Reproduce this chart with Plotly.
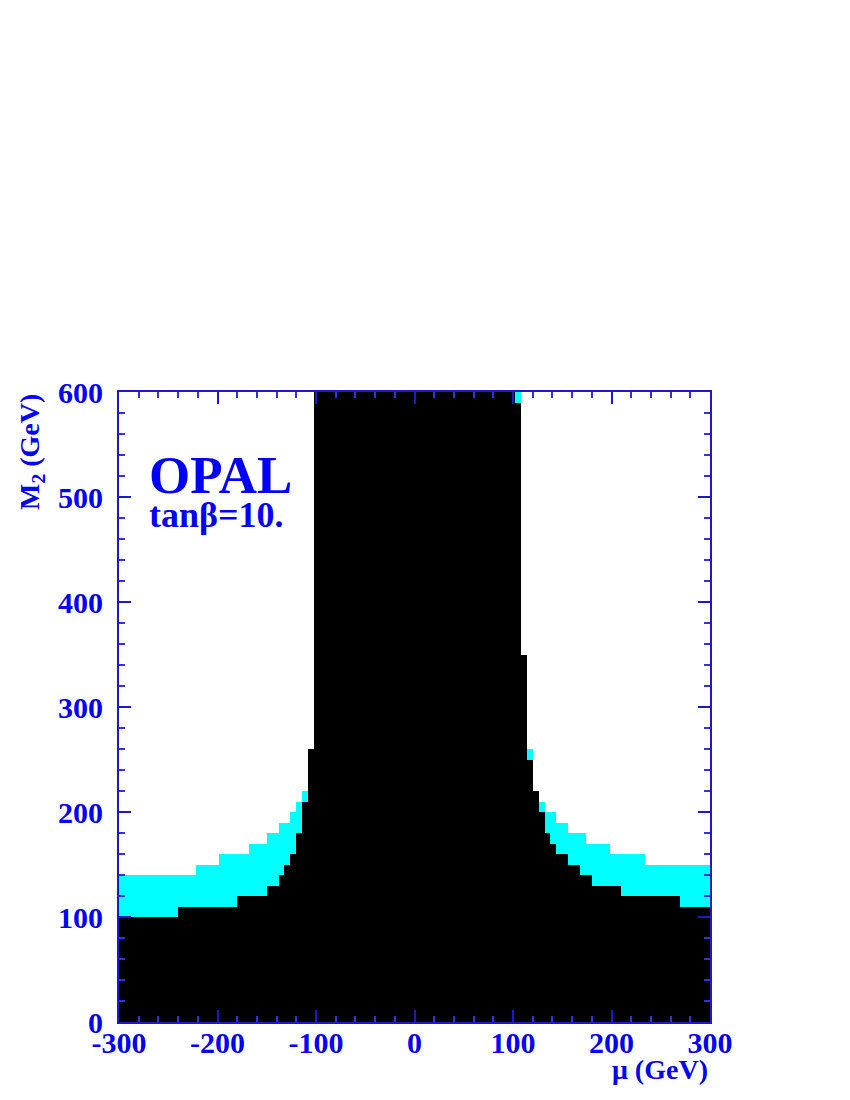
import plotly.graph_objects as go

# Step boundaries of the excluded regions (mu in GeV)
mu_edges = [-300, -240, -222, -198, -180, -168, -150, -138, -132, -126, -120, -114, -108, -102,
            102, 108, 114, 120, 126, 132, 138, 144, 156, 168, 174, 180, 198, 210, 234, 270, 300]
# Upper M2 edge (GeV) of black region in each mu segment
black_top = [100, 110, 110, 110, 120, 120, 130, 140, 150, 160, 180, 210, 260,
             600,
             590, 350, 250, 220, 200, 180, 170, 160, 150, 140, 140, 130, 130, 120, 120, 110]
# Upper M2 edge (GeV) of cyan region in each mu segment
cyan_top = [140, 140, 150, 160, 160, 170, 180, 190, 190, 200, 210, 220, 260,
            600,
            600, 350, 260, 220, 210, 200, 200, 190, 180, 180, 170, 170, 160, 160, 150, 150]
m2_edges = list(range(0, 610, 10))

x_ticks = [-300, -200, -100, 0, 100, 200, 300]
y_ticks = [0, 100, 200, 300, 400, 500, 600]

z = []
for j in range(len(m2_edges) - 1):
    yc = 0.5 * (m2_edges[j] + m2_edges[j + 1])
    row = []
    for i in range(len(black_top)):
        if yc < black_top[i]:
            row.append(2)
        elif yc < cyan_top[i]:
            row.append(1)
        else:
            row.append(None)
    z.append(row)

BLUE = "#0000ff"
FONT = "Liberation Serif"

fig = go.Figure()
fig.add_trace(go.Heatmap(
    x=mu_edges, y=m2_edges, z=z, zmin=0, zmax=2,
    colorscale=[[0, "white"], [0.33, "white"], [0.33, "#00ffff"], [0.67, "#00ffff"],
                [0.67, "black"], [1, "black"]],
    showscale=False, hoverinfo="skip",
))

axis_common = dict(
    showgrid=False, zeroline=False,
    showline=True, linecolor="#1a1acc", linewidth=2, mirror="ticks",
    ticks="inside", ticklen=12, tickwidth=2, tickcolor="#1a1acc",
    minor=dict(dtick=20, ticks="inside", ticklen=6, tickwidth=1.5, tickcolor="#3333dd"),
    tickfont=dict(family=FONT, size=30, color=BLUE, weight="bold"),
)

fig.update_layout(
    width=850, height=1100,
    margin=dict(l=111, r=148, t=384, b=86),
    paper_bgcolor="white", plot_bgcolor="white",
    xaxis=dict(range=[-300, 300], tickvals=x_ticks, ticktext=[str(v) for v in x_ticks],
               ticklabelstandoff=-7, **axis_common),
    yaxis=dict(range=[0, 600], tickvals=y_ticks, ticktext=[str(v) for v in y_ticks],
               ticklabelstandoff=8, **axis_common),
    showlegend=False,
)

def px_x(p):
    return (p - 118) / 591.0

def px_y(p):
    return (1021 - p) / 630.0

fig.add_annotation(x=px_x(146), y=px_y(474), xref="paper", yref="paper",
                   text="OPAL", showarrow=False, xanchor="left", yanchor="middle",
                   font=dict(family=FONT, size=53, color=BLUE, weight="bold"))
fig.add_annotation(x=px_x(146), y=px_y(514), xref="paper", yref="paper",
                   text="tanβ=10.", showarrow=False, xanchor="left", yanchor="middle",
                   font=dict(family=FONT, size=36, color=BLUE, weight="bold"))
fig.add_annotation(x=px_x(30), y=px_y(451), xref="paper", yref="paper",
                   text="M<sub>2</sub> (GeV)", showarrow=False, textangle=-90,
                   xanchor="center", yanchor="middle",
                   font=dict(family=FONT, size=28, color=BLUE, weight="bold"))
fig.add_annotation(x=px_x(709), y=px_y(1068), xref="paper", yref="paper",
                   text="μ (GeV)", showarrow=False, xanchor="right", yanchor="middle",
                   font=dict(family=FONT, size=28, color=BLUE, weight="bold"))

fig.write_html("out.html")
